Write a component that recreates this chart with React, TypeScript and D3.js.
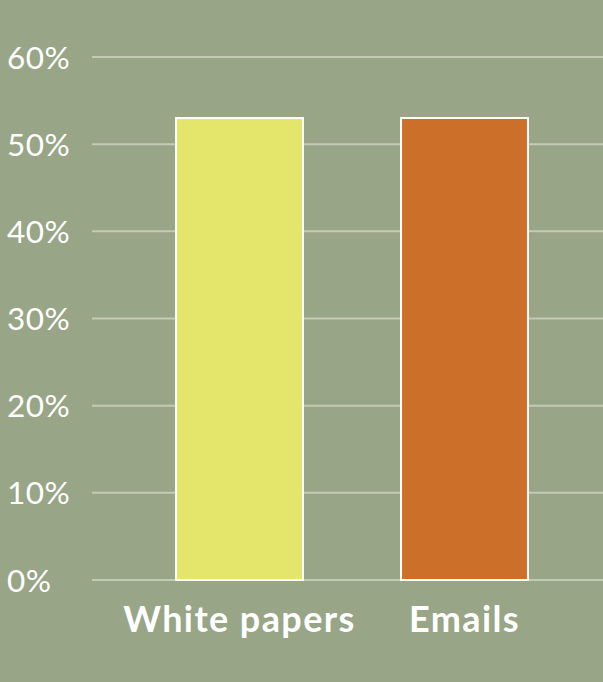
import React, { useEffect, useRef } from 'react';
import * as d3 from 'd3';

const categories = ['White papers', 'Emails'];
const values = [53, 53];
const barColors = ['#e3e66b', '#cc7029'];
const yTicks = [0, 10, 20, 30, 40, 50, 60];

const App: React.FC = () => {
  const svgRef = useRef<SVGSVGElement>(null);
  const width = 603;
  const height = 682;

  useEffect(() => {
    if (!svgRef.current) return;
    const svg = d3.select(svgRef.current);
    svg.selectAll('*').remove();

    svg.append('rect')
      .attr('width', width)
      .attr('height', height)
      .attr('fill', '#98a586');

    const yScale = d3.scaleLinear().domain([0, 60]).range([580, 57]);
    const xScale = d3.scaleBand<string>()
      .domain(categories)
      .range([127, 577])
      .paddingInner(0.436)
      .paddingOuter(0.218);

    // Grid lines
    svg.append('g')
      .selectAll('line')
      .data(yTicks)
      .join('line')
      .attr('x1', 92)
      .attr('x2', width)
      .attr('y1', d => yScale(d))
      .attr('y2', d => yScale(d))
      .attr('stroke', '#c3cab6')
      .attr('stroke-width', 2);

    // Y labels
    svg.append('g')
      .selectAll('text')
      .data(yTicks)
      .join('text')
      .attr('x', 7)
      .attr('y', d => yScale(d) + 11.5)
      .attr('fill', '#ffffff')
      .attr('font-family', 'Lato')
      .attr('font-size', '31.5px')
      .attr('letter-spacing', '0.5px')
      .text(d => `${d}%`);

    // Bars
    svg.append('g')
      .selectAll('rect')
      .data(values)
      .join('rect')
      .attr('x', (_, i) => xScale(categories[i])!)
      .attr('y', d => yScale(d))
      .attr('width', xScale.bandwidth())
      .attr('height', d => yScale(0) - yScale(d))
      .attr('fill', (_, i) => barColors[i])
      .attr('stroke', '#ffffff')
      .attr('stroke-width', 2);

    // Category labels
    svg.append('g')
      .selectAll('text')
      .data(categories)
      .join('text')
      .attr('x', d => xScale(d)! + xScale.bandwidth() / 2)
      .attr('y', 632)
      .attr('text-anchor', 'middle')
      .attr('fill', '#ffffff')
      .attr('font-family', 'Lato')
      .attr('font-weight', 'bold')
      .attr('font-size', '36px')
      .attr('letter-spacing', '1.4px')
      .text(d => d);
  }, []);

  return (
    <svg
      ref={svgRef}
      width={width}
      height={height}
      style={{ position: 'absolute', left: 0, top: 0 }}
    />
  );
};

export default App;
